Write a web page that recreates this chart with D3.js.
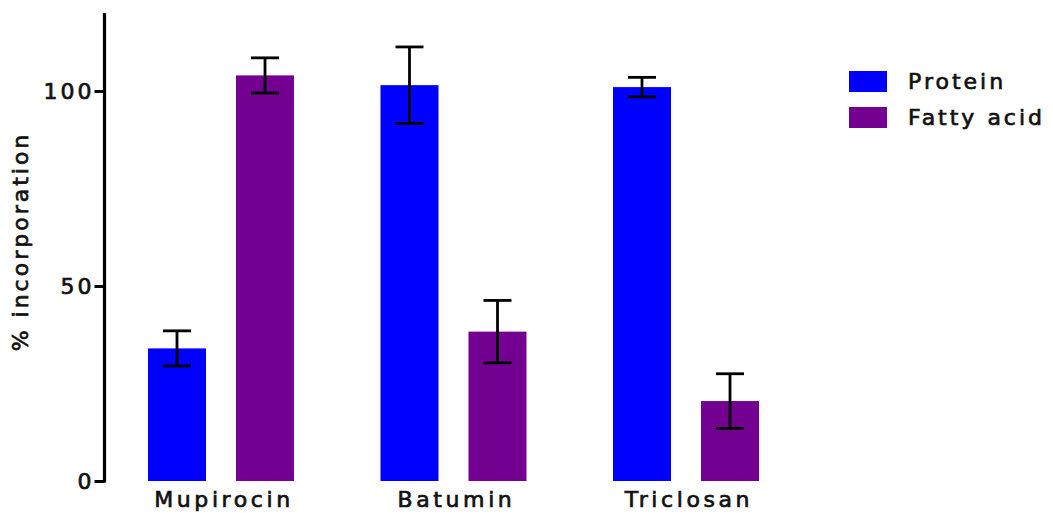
<!DOCTYPE html>
<html>
<head>
<meta charset="utf-8">
<script src="https://cdn.jsdelivr.net/npm/d3@7"></script>
<style>
  html, body { margin: 0; padding: 0; background: #fff; }
  svg { display: block; }
  text { font-family: "DejaVu Sans", Verdana, sans-serif; fill: #111; stroke: #111; stroke-width: 0.7px; }
</style>
</head>
<body>
<svg id="chart" width="1053" height="513"></svg>
<script>
// Treatments and measured series
const categories = ["Mupirocin", "Batumin", "Triclosan"];
const seriesNames = ["Protein", "Fatty acid"];
const proteinMean = [34, 101.5, 101];
const proteinErr = [4.5, 9.8, 2.5];
const fattyMean = [104, 38.3, 20.5];
const fattyErr = [4.5, 8, 7];
const yTicks = [0, 50, 100];
const colors = ["#0000ff", "#740092"];

const svg = d3.select("#chart");

const y = d3.scaleLinear().domain([0, 120]).range([481, 13]);
const x0 = d3.scaleBand().domain(categories).range([104.75, 802.25])
  .paddingInner(0.372).paddingOuter(0.186);
const x1 = d3.scaleBand().domain(seriesNames).range([0, x0.bandwidth()])
  .paddingInner(0.341).paddingOuter(0);

const rows = categories.map((c, i) => ({
  cat: c,
  vals: [
    { s: seriesNames[0], v: proteinMean[i], e: proteinErr[i] },
    { s: seriesNames[1], v: fattyMean[i], e: fattyErr[i] }
  ]
}));

// Bars
const groups = svg.append("g").selectAll("g").data(rows).join("g")
  .attr("transform", d => `translate(${x0(d.cat)},0)`);

groups.selectAll("rect").data(d => d.vals).join("rect")
  .attr("x", d => x1(d.s))
  .attr("width", x1.bandwidth())
  .attr("y", d => y(d.v))
  .attr("height", d => y(0) - y(d.v))
  .attr("fill", (d, i) => colors[i]);

// Error bars
const capW = 28;
const eb = groups.selectAll("g.err").data(d => d.vals).join("g").attr("class", "err")
  .attr("stroke", "#000").attr("stroke-width", 2.8).attr("fill", "none");
eb.append("line")
  .attr("x1", d => x1(d.s) + x1.bandwidth() / 2)
  .attr("x2", d => x1(d.s) + x1.bandwidth() / 2)
  .attr("y1", d => y(d.v + d.e))
  .attr("y2", d => y(d.v - d.e));
eb.append("line")
  .attr("x1", d => x1(d.s) + x1.bandwidth() / 2 - capW / 2)
  .attr("x2", d => x1(d.s) + x1.bandwidth() / 2 + capW / 2)
  .attr("y1", d => y(d.v + d.e))
  .attr("y2", d => y(d.v + d.e));
eb.append("line")
  .attr("x1", d => x1(d.s) + x1.bandwidth() / 2 - capW / 2)
  .attr("x2", d => x1(d.s) + x1.bandwidth() / 2 + capW / 2)
  .attr("y1", d => y(d.v - d.e))
  .attr("y2", d => y(d.v - d.e));

// Y axis
const yAxis = svg.append("g")
  .attr("transform", "translate(104.5,0)")
  .call(d3.axisLeft(y).tickValues(yTicks).tickSize(10).tickPadding(0).tickSizeOuter(0));
yAxis.select(".domain").attr("stroke", "#000").attr("stroke-width", 3.2)
  .attr("d", `M0,${y(120)}V${y(0) + 1.5}`);
yAxis.selectAll(".tick line").attr("stroke", "#000").attr("stroke-width", 3);
yAxis.selectAll(".tick text")
  .style("font-family", "'DejaVu Sans', Verdana, sans-serif")
  .style("font-size", "22px")
  .style("letter-spacing", "3px")
  .attr("fill", "#111")
  .attr("dy", "0.36em");

// Y axis title
svg.append("text")
  .attr("transform", "translate(28,241.5) rotate(-90)")
  .attr("text-anchor", "middle")
  .style("font-size", "22px")
  .style("letter-spacing", "3px")
  .text("% incorporation");

// Category labels
svg.append("g").selectAll("text").data(categories).join("text")
  .attr("x", d => x0(d) + x0.bandwidth() / 2 + 3)
  .attr("y", 506.5)
  .attr("text-anchor", "middle")
  .style("font-size", "22px")
  .style("letter-spacing", "3.6px")
  .text(d => d);

// Legend
const legend = svg.append("g").attr("transform", "translate(849,71)");
const li = legend.selectAll("g").data(seriesNames).join("g")
  .attr("transform", (d, i) => `translate(0,${i * 36})`);
li.append("rect").attr("width", 38).attr("height", 21)
  .attr("fill", (d, i) => colors[i]);
li.append("text").attr("x", 59).attr("y", 18.3)
  .style("font-size", "22px")
  .style("letter-spacing", "3px")
  .text(d => d);
</script>
</body>
</html>
